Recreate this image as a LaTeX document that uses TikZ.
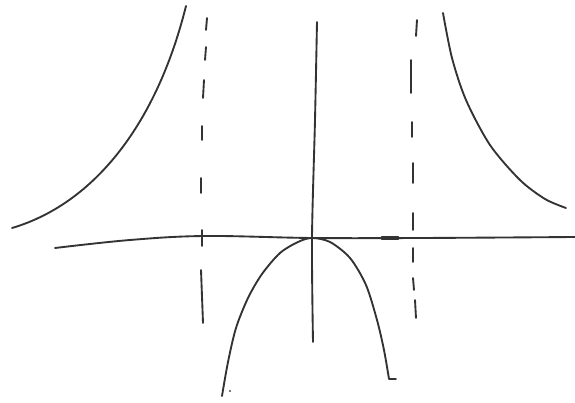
\documentclass[tikz,border=0pt]{standalone}
\begin{document}
\begin{tikzpicture}[x=0.03cm,y=-0.03cm,
  pen/.style={draw=black!80,line width=1.6pt,line cap=round,line join=round},
  dashpen/.style={draw=black!80,line width=1.6pt,line cap=round}]
\useasboundingbox (0,0) rectangle (575,403);
% axes
\draw[pen] plot[smooth,tension=0.6] coordinates {(55,248) (130,240) (205,236) (312,238) (420,238) (575,237)};
\draw[pen,line width=2.6pt] (382,238) -- (398,238);
\draw[pen] plot[smooth,tension=0.5] coordinates {(317,22) (315,120) (312,238) (313,342)};
% left branch
\draw[pen] (12,228) .. controls (90,205) and (155,130) .. (186,6);
% right branch
\draw[pen] plot[smooth,tension=0.5] coordinates {(443,13) (452,58) (466,100) (490,145) (520,180) (545,199) (566,208)};
% middle parabola
\draw[pen] plot[smooth,tension=0.5] coordinates {(222,396) (228,362) (236,328) (248,298) (262,274) (280,253) (298,242) (312,238) (330,242) (350,258) (366,285) (377,320) (384,350) (389,379)} -- (396,379);
% dashed asymptotes
\foreach \a/\b/\c/\d in {207/18/206/30, 206/47/205/60, 204/80/203/98, 202/126/202/140, 201/178/201/193, 202/230/202/246, 201/270/203/323}
  \draw[dashpen] (\a,\b) -- (\c,\d);
\foreach \a/\b/\c/\d in {417/20/416/36, 411/60/411/93, 412/122/412/137, 413/163/413/183, 413/213/413/230, 413/248/413/262, 413/278/414/290, 415/300/416/318}
  \draw[dashpen] (\a,\b) -- (\c,\d);
\fill[black!70] (230,391) circle (1.2);
\end{tikzpicture}
\end{document}
